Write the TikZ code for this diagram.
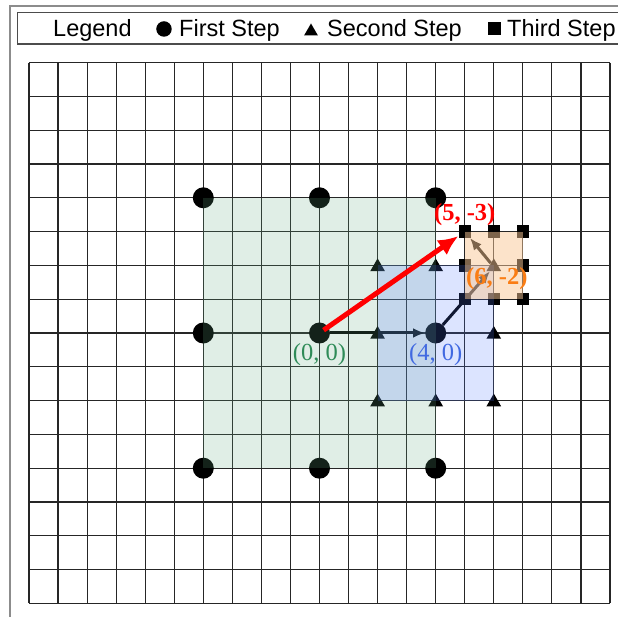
\documentclass[tikz,border=0pt]{standalone}
\usepackage{fontspec}
\setmainfont{Liberation Serif}
\newfontfamily\legendfont{Liberation Sans}
\usetikzlibrary{
    arrows.meta,
    positioning,
    shapes.geometric
}

\definecolor{ptgreen}{RGB}{46,139,87}
\definecolor{ptblue}{RGB}{65,105,225}
\definecolor{ptorange}{RGB}{250,125,20}
\definecolor{fillgreen}{RGB}{100,170,130}
\definecolor{fillblue}{RGB}{80,120,255}
\definecolor{fillorange}{RGB}{250,200,150}

\begin{document}
\begin{tikzpicture}[
    x=29.05pt,
    y=-33.8pt,
    gridline/.style={
        draw=black!85,
        line width=1.1pt
    },
    firstdot/.style={
        circle,
        fill=black,
        inner sep=0pt,
        minimum size=21pt
    },
    secondtri/.style={
        regular polygon,
        regular polygon sides=3,
        fill=black,
        inner sep=0pt,
        minimum size=17pt,
        yshift=-1.5pt
    },
    thirdsq/.style={
        rectangle,
        fill=black,
        inner sep=0pt,
        minimum size=12.5pt
    },
    steparrow/.style={
        -{Latex[length=12pt,width=10pt]},
        line width=3pt,
        draw=black
    },
    jumparrow/.style={
        -{Latex[length=20pt,width=18pt]},
        line width=5pt,
        draw=red
    },
    ptlabel/.style={
        font=\fontsize{24.5}{28}\selectfont,
        inner sep=0pt
    },
    legtext/.style={
        font=\legendfont\fontsize{23.5}{27}\selectfont,
        anchor=base west,
        inner sep=0pt
    },
    frame/.style={
        draw=black!45,
        line width=2pt
    },
    legbox/.style={
        draw=black!70,
        line width=1.5pt
    }
]

\path[use as bounding box] (-319.5pt,-284pt) rectangle (298.5pt,333pt);

% =========================================================
% Frame and legend (pixel coordinates)
% =========================================================
\begin{scope}[x=1pt, y=-1pt, shift={(-319.5pt,333pt)}]
\draw[frame] (10,625) -- (10,6) -- (630,6);
\draw[legbox] (17.5,12.5) rectangle (630,44);

\node[legtext] (legtitle) at (53,37) {Legend};

\node[firstdot, minimum size=15.5pt] (legfirstmark) at (164,29) {};
\node[legtext] (legfirst) at (179,37) {First Step};

\node[secondtri, minimum size=16pt, yshift=0pt] (legsecondmark) at (311,30) {};
\node[legtext] (legsecond) at (327,37) {Second Step};

\node[thirdsq, minimum size=13pt] (legthirdmark) at (494,29) {};
\node[legtext] (legthird) at (507,37) {Third Step};
\end{scope}

% =========================================================
% Grid
% =========================================================
\foreach \gx in {-10,...,10}
    \draw[gridline] (\gx,-8) -- (\gx,8);
\foreach \gy in {-8,...,8}
    \draw[gridline] (-10,\gy) -- (10,\gy);

% =========================================================
% Step markers
% =========================================================
\foreach \px/\py/\nm in {-4/-4/firstm4m4, 0/-4/first0m4, 4/-4/first4m4,
                         -4/0/firstm40, 0/0/first00, 4/0/first40,
                         -4/4/firstm44, 0/4/first04, 4/4/first44}
    \node[firstdot] (\nm) at (\px,\py) {};

\foreach \px/\py/\nm in {2/-2/second2m2, 4/-2/second4m2, 6/-2/second6m2,
                         2/0/second20, 6/0/second60,
                         2/2/second22, 4/2/second42, 6/2/second62}
    \node[secondtri] (\nm) at (\px,\py) {};

\foreach \px/\py/\nm in {5/-3/third5m3, 6/-3/third6m3, 7/-3/third7m3,
                         5/-2/third5m2, 7/-2/third7m2,
                         5/-1/third5m1, 6/-1/third6m1, 7/-1/third7m1}
    \node[thirdsq] (\nm) at (\px,\py) {};

% =========================================================
% Step arrows
% =========================================================
\draw[steparrow] (first00) -- (first40);
\draw[steparrow] (first40) -- (second6m2);
\draw[steparrow] (second6m2) -- (third5m3);

% =========================================================
% Search regions
% =========================================================
\fill[fillgreen, fill opacity=0.2] (-4,-4) rectangle (4,4);
\fill[fillblue, fill opacity=0.2] (2,-2) rectangle (6,2);
\fill[fillorange, fill opacity=0.5] (5,-3) rectangle (7,-1);

% =========================================================
% Direct jump and point labels
% =========================================================
\draw[jumparrow, shorten <=5pt] (first00.center) -- (third5m3);

\node[ptlabel, text=ptgreen, below=0pt of first00] (lab00) {(0, 0)};
\node[ptlabel, text=ptblue, below=0pt of first40] (lab40) {(4, 0)};
\node[ptlabel, text=red, above=-1pt of third5m3] (lab5m3) {\textbf{(5, -3)}};
\node[ptlabel, text=ptorange, below=-4pt of second6m2, xshift=3pt] (lab6m2) {\textbf{(6, -2)}};

\end{tikzpicture}
\end{document}
